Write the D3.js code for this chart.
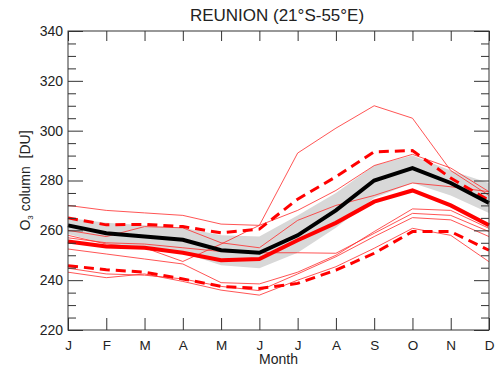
<!DOCTYPE html>
<html>
<head>
<meta charset="utf-8">
<script src="https://cdn.jsdelivr.net/npm/d3@7"></script>
<style>
  body { margin: 0; background: #fff; }
  text { font-family: "Liberation Sans", Arial, sans-serif; fill: #222; }
  .axis path { display: none; }
  .axis line { stroke: #333; }
</style>
</head>
<body>
<div id="chart"></div>
<script>
// Monthly total ozone, Reunion (DU)
const months = ['J', 'F', 'M', 'A', 'M', 'J', 'J', 'A', 'S', 'O', 'N', 'D'];
const yMajorTicks = [220, 240, 260, 280, 300, 320, 340];

// model mean (black) and its spread (grey band)
const modelMean = [262, 258.8, 257.5, 256.2, 252, 251, 258, 268, 280, 285, 279, 271];
const bandHigh  = [265, 263, 262, 261, 258, 257.5, 266, 275, 286, 290, 284, 279];
const bandLow   = [258.5, 254.5, 253, 251, 246, 244.8, 251, 261, 273, 279, 274, 267];

// observed mean (thick red) and its upper / lower bounds (dashed)
const obsMean    = [255.5, 253.5, 253, 251, 248, 248.5, 256, 263, 271.5, 276, 270, 262];
const obsUpper   = [265, 262.2, 262.4, 261.5, 259, 260.5, 272.5, 281.5, 291.5, 292, 281, 272];
const obsLower   = [245.8, 244.2, 243.2, 240.5, 237.5, 236.7, 238.7, 244, 250.8, 259.5, 259.5, 252];

// individual years (thin red)
const year1 = [270, 268, 267, 266, 262.5, 262, 268, 276, 286, 290.5, 285, 275.5];
const year2 = [258, 254.5, 253, 247.5, 254.5, 262, 291, 301, 310, 305, 284, 274];
const year3 = [260, 257.5, 261.5, 261, 255, 253, 264, 270, 274, 279, 277.5, 275.5];
const year4 = [257, 255, 254.5, 253, 251.5, 251, 251, 250.8, 258.8, 266.8, 266, 259.5];
const year5 = [252.5, 250.5, 248.5, 246.5, 239, 238.5, 243.2, 250, 259.5, 268.6, 268, 260.8];
const year6 = [244.8, 242.5, 242, 240.5, 237.5, 235.8, 242.5, 249.4, 257.5, 265.1, 264.2, 257.5];
const year7 = [243.2, 241, 242.5, 239.5, 236, 234, 240, 245.4, 252.8, 260.8, 258, 247.4];
const thinSeries = [year1, year2, year3, year4, year5, year6, year7];

const width = 496, height = 372;
const margin = {top: 31, right: 7, bottom: 42, left: 68};
const innerW = width - margin.left - margin.right;
const innerH = height - margin.top - margin.bottom;

const svg = d3.select('#chart').append('svg')
    .attr('width', width)
    .attr('height', height);

const chart = svg.append('g')
    .attr('transform', `translate(${margin.left},${margin.top})`);

const xScale = d3.scaleLinear().domain([0, months.length - 1]).range([0, innerW]);
const yScale = d3.scaleLinear().domain([220, 340]).range([innerH, 0]);
const idx = d3.range(months.length);
const minorTicks = d3.range(220, 341, 5).filter(v => !yMajorTicks.includes(v));

const line = d3.line()
    .x((d, i) => xScale(i))
    .y(d => yScale(d));

const area = d3.area()
    .x(i => xScale(i))
    .y0(i => yScale(bandLow[i]))
    .y1(i => yScale(bandHigh[i]));

// grey spread band
chart.append('path')
    .datum(idx)
    .attr('d', area)
    .attr('fill', '#d8d8d8');

// thin lines
chart.selectAll('.thin')
    .data(thinSeries)
    .join('path')
    .attr('class', 'thin')
    .attr('d', line)
    .attr('fill', 'none')
    .attr('stroke', '#ff2a2a')
    .attr('stroke-width', 1)
    .attr('stroke-opacity', 0.8);

// dashed bounds
chart.selectAll('.dashed')
    .data([obsUpper, obsLower])
    .join('path')
    .attr('class', 'dashed')
    .attr('d', line)
    .attr('fill', 'none')
    .attr('stroke', '#ff0000')
    .attr('stroke-width', 3)
    .attr('stroke-dasharray', '10,6');

chart.append('path')
    .datum(obsMean)
    .attr('d', line)
    .attr('fill', 'none')
    .attr('stroke', '#ff0000')
    .attr('stroke-width', 4);

chart.append('path')
    .datum(modelMean)
    .attr('d', line)
    .attr('fill', 'none')
    .attr('stroke', '#000')
    .attr('stroke-width', 4);

// axes: ticks point inward on all four sides
chart.append('g').attr('class', 'axis')
    .call(d3.axisLeft(yScale).tickValues(minorTicks).tickSize(-8).tickFormat(''));
chart.append('g').attr('class', 'axis')
    .call(d3.axisLeft(yScale).tickValues(yMajorTicks).tickSize(-15).tickPadding(5))
    .selectAll('text').style('font-size', '14px');

chart.append('g').attr('class', 'axis')
    .attr('transform', `translate(${innerW},0)`)
    .call(d3.axisRight(yScale).tickValues(minorTicks).tickSize(-8).tickFormat(''));
chart.append('g').attr('class', 'axis')
    .attr('transform', `translate(${innerW},0)`)
    .call(d3.axisRight(yScale).tickValues(yMajorTicks).tickSize(-15).tickFormat(''));

chart.append('g').attr('class', 'axis')
    .attr('transform', `translate(0,${innerH})`)
    .call(d3.axisBottom(xScale).tickValues(idx).tickSize(-12).tickPadding(10).tickFormat(i => months[i]))
    .selectAll('text').style('font-size', '13.5px');

chart.append('g').attr('class', 'axis')
    .call(d3.axisTop(xScale).tickValues(idx).tickSize(-10).tickFormat(''));

// frame
chart.append('rect')
    .attr('width', innerW)
    .attr('height', innerH)
    .attr('fill', 'none')
    .attr('stroke', '#333');

// titles
svg.append('text')
    .attr('x', 277)
    .attr('y', 21)
    .attr('text-anchor', 'middle')
    .style('font-size', '17px')
    .text('REUNION (21°S-55°E)');

svg.append('text')
    .attr('x', margin.left + innerW / 2)
    .attr('y', 364)
    .attr('text-anchor', 'middle')
    .style('font-size', '14px')
    .text('Month');

const yTitle = svg.append('text')
    .attr('transform', `translate(30,${margin.top + innerH / 2}) rotate(-90)`)
    .attr('text-anchor', 'middle')
    .style('font-size', '14px')
    .style('white-space', 'pre');
yTitle.append('tspan').text('O');
yTitle.append('tspan').attr('dy', 3).style('font-size', '8px').text('3');
yTitle.append('tspan').attr('dy', -3).text(' column  [DU]');
</script>
</body>
</html>
